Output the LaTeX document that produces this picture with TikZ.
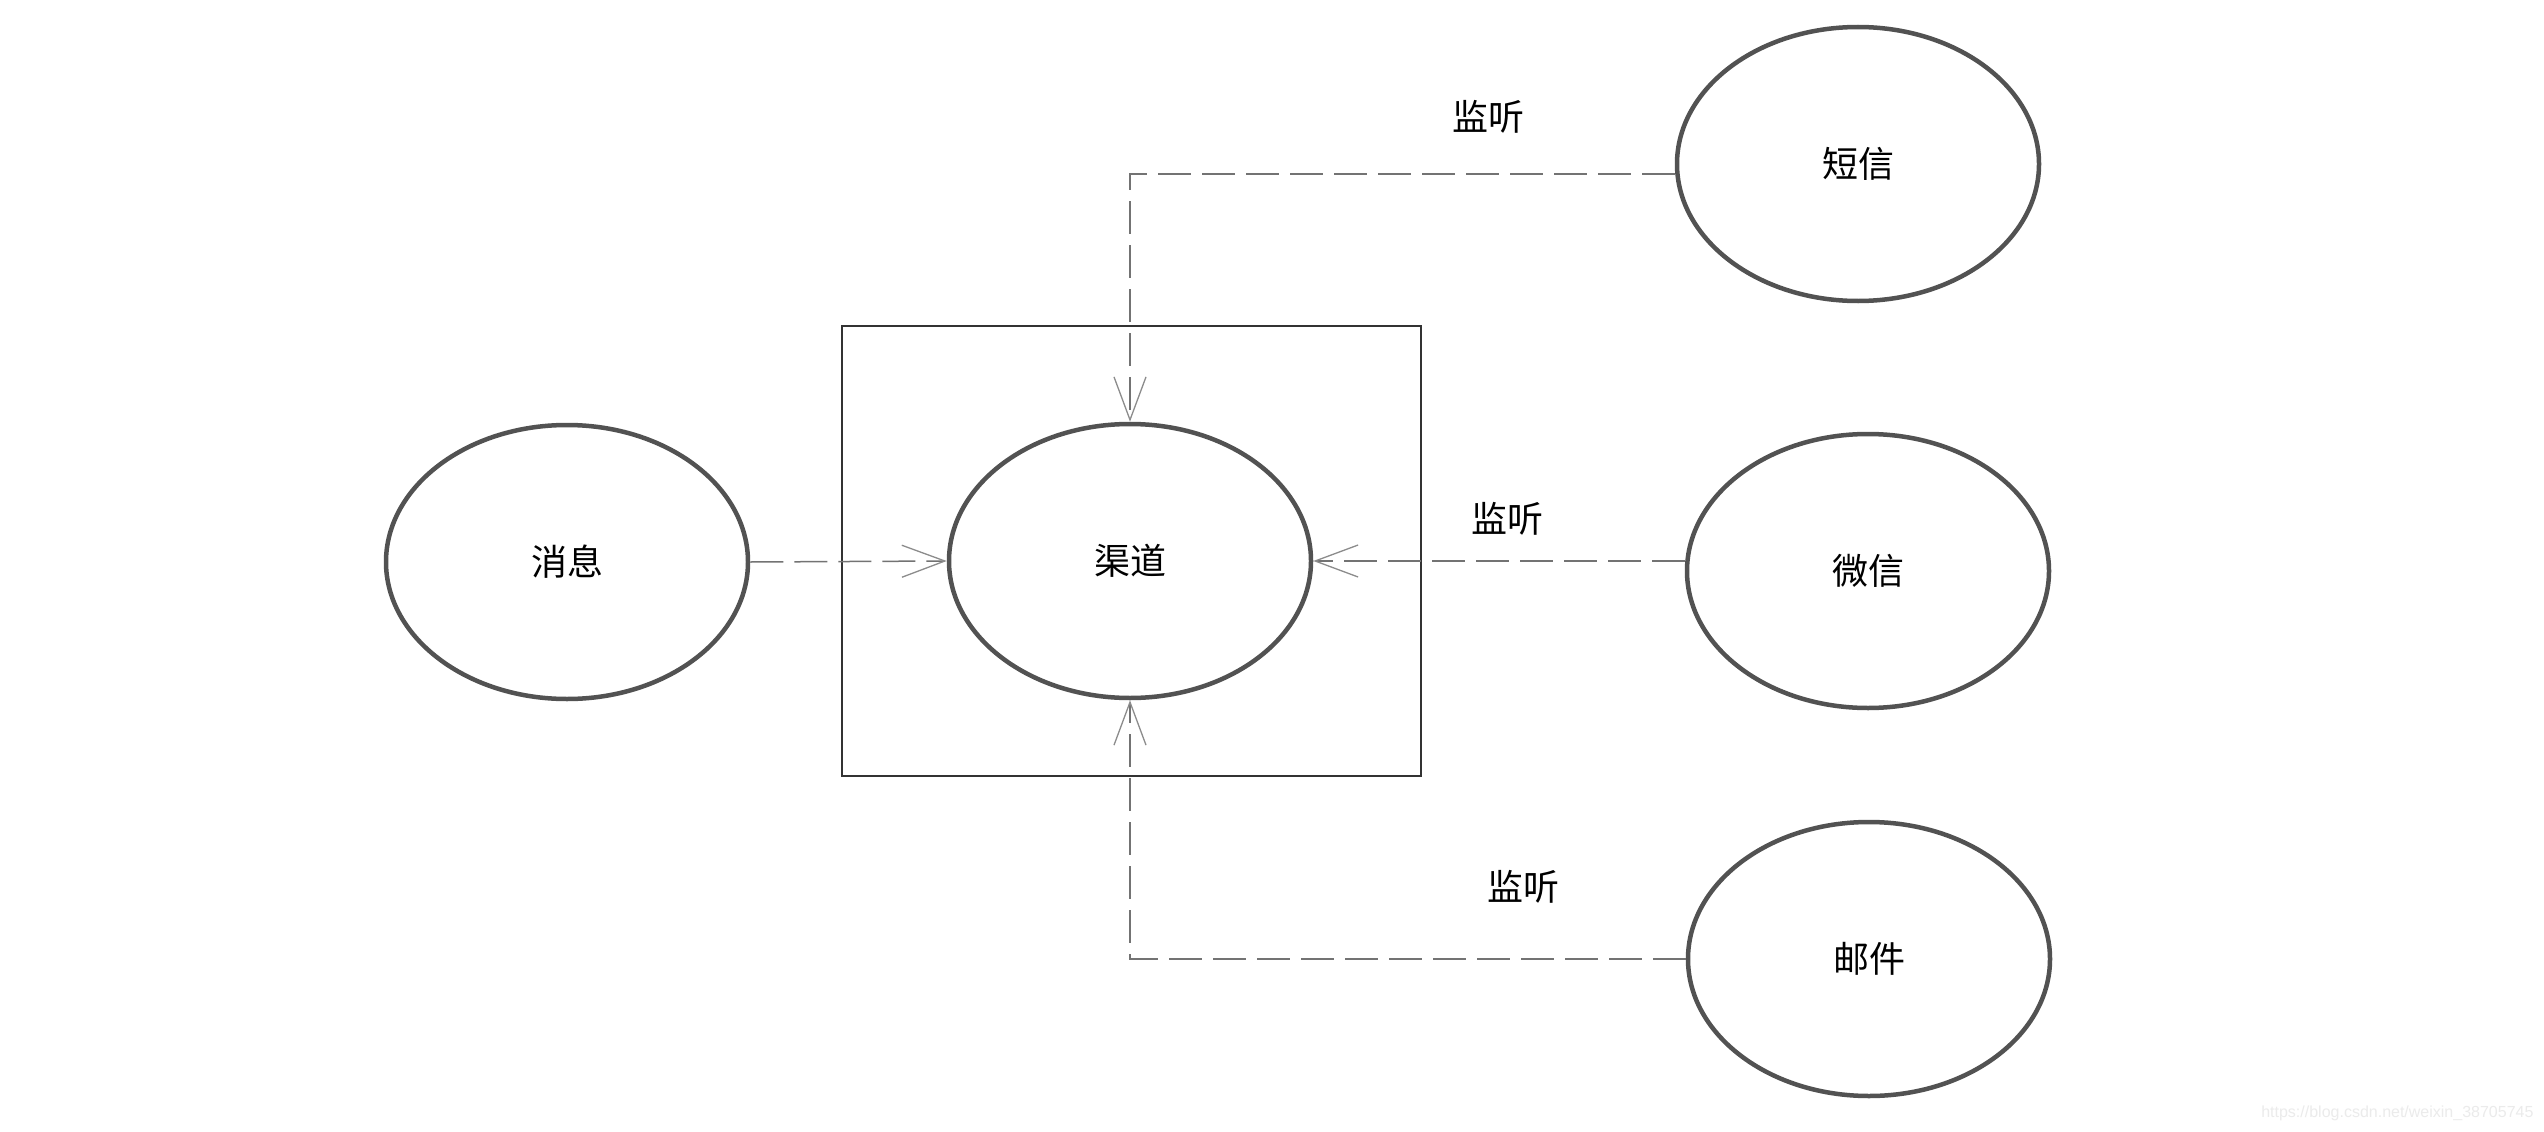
\documentclass[tikz,border=0pt]{standalone}
\usepackage{fontspec}
\newfontfamily\cjk{Noto Sans CJK SC}
\setsansfont{Liberation Sans}
\usetikzlibrary{shapes.geometric,arrows.meta}
\begin{document}
\begin{tikzpicture}[x=1pt,y=-1pt,
  oval/.style={ellipse,draw=black!68,line width=4.5pt,minimum width=362pt,minimum height=274pt,inner sep=0pt,font=\cjk\fontsize{36}{40}\selectfont},
  conn/.style={draw=black!55,line width=1.5pt,dash pattern=on 33pt off 11pt,-{Straight Barb[length=43pt,width=32pt,line width=1.3pt,color=black!45]}},
  lbl/.style={font=\cjk\fontsize{36}{40}\selectfont},
  frame/.style={draw=black!80,line width=2pt,minimum width=579pt,minimum height=450pt,inner sep=0pt}]
\fill[white] (0,0) rectangle (2544,1132);
\useasboundingbox (0,0) rectangle (2544,1132);
\node[frame] (box) at (1131.5,551) {};
\node[oval] (qd) at (1130,561) {渠道};
\node[oval] (xx) at (567,562) {消息};
\node[oval] (dx) at (1858,164) {短信};
\node[oval] (wx) at (1868,571) {微信};
\node[oval] (yj) at (1869,959) {邮件};
\node[lbl] (l1) at (1488,117) {监听};
\node[lbl] (l2) at (1507,519) {监听};
\node[lbl] (l3) at (1523,887) {监听};
\node[font=\sffamily\fontsize{16}{20}\selectfont,text=black!8,anchor=east] (wm) at (2537,1113) {https://blog.csdn.net/weixin\_38705745};
\draw[conn] (xx.east) -- (qd.west);
\draw[conn] ([yshift=-10pt]dx.west) -| (qd.north);
\draw[conn] (wx.west |- qd.east) -- (qd.east);
\draw[conn] (yj.west) -| (qd.south);
\end{tikzpicture}
\end{document}
